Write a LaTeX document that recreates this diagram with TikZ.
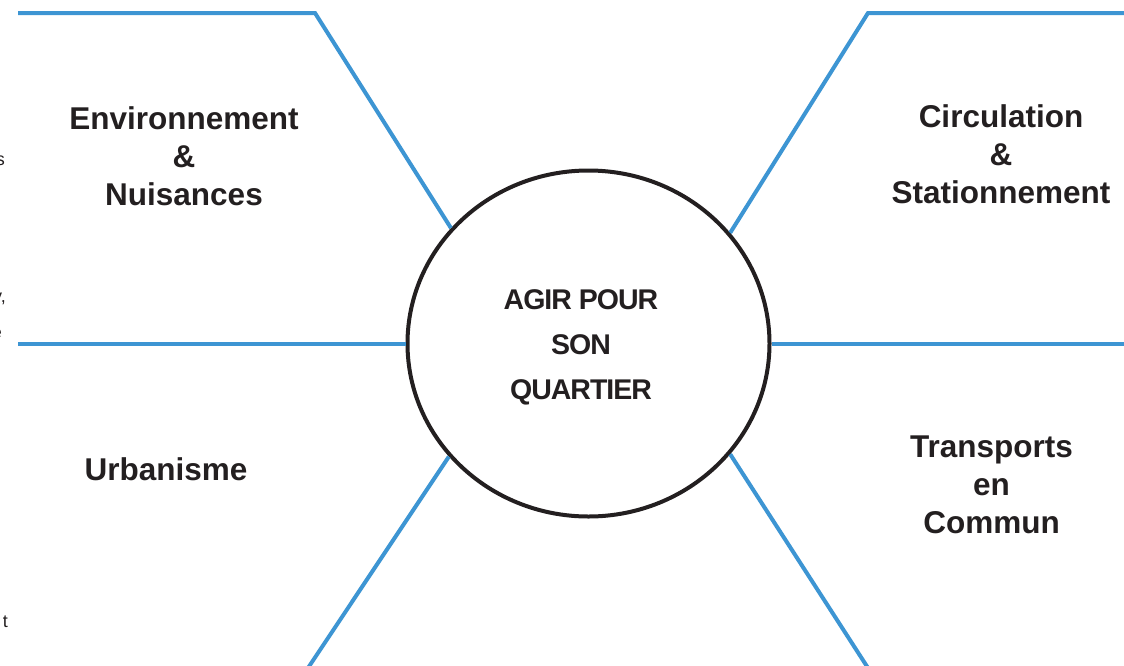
\documentclass[tikz,border=0pt]{standalone}
\usepackage{fontspec}
\setmainfont{Liberation Sans}
\usetikzlibrary{positioning,shapes.geometric}
\definecolor{myblue}{RGB}{61,149,211}
\definecolor{mygray}{RGB}{35,31,32}

\tikzset{
  theme/.style={font=\fontsize{31.5}{38}\selectfont\bfseries, text=mygray, align=center, inner sep=0pt},
  spoke/.style={myblue, line width=4pt, line join=miter},
  margin/.style={font=\fontsize{18}{22}\selectfont, text=mygray, anchor=base east, inner sep=0pt}
}

\begin{document}
\begin{tikzpicture}[x=1pt,y=-1pt]
\useasboundingbox (0,0) rectangle (1124,665);

\node[ellipse, draw=mygray, line width=4pt, minimum width=362pt, minimum height=346pt, inner sep=0pt] (quartier) at (588.5,343.5) {};
\node[font=\fontsize{28.5}{45}\selectfont\bfseries\addfontfeatures{LetterSpace=-3.5}, align=center, text=mygray, inner sep=0pt]
  (agir) at (581,347) {AGIR POUR\\SON\\QUARTIER};

\node[theme] (env)   at (184,156)   {Environnement\\\&\\Nuisances};
\node[theme] (circ)  at (1001,154)  {Circulation\\\&\\Stationnement};
\node[theme] (urba)  at (166,469)   {Urbanisme};
\node[theme] (trans) at (991.5,485) {Transports\\en\\Commun};

% bouts de texte coupes au bord gauche
\node[margin] (m1) at (5,165)  {s};
\node[margin] (m2) at (6,302)  {y,};
\node[margin] (m3) at (2,338)  {e};
\node[margin] (m4) at (8,627)  {t};

\coordinate (tl)  at (18,13);
\coordinate (tlk) at (315,13);
\coordinate (tr)  at (1130,13);
\coordinate (trk) at (868,13);
\coordinate (ml)  at (18,343.5);
\coordinate (mr)  at (1130,343.5);
\coordinate (bl)  at (308,668);
\coordinate (br)  at (868,668);

\draw[spoke] (tl) -- (tlk) -- (quartier.140);
\draw[spoke] (tr) -- (trk) -- (quartier.38);
\draw[spoke] (ml) -- (quartier.west);
\draw[spoke] (quartier.east) -- (mr);
\draw[spoke] (quartier.219) -- (bl);
\draw[spoke] (quartier.322) -- (br);

\end{tikzpicture}
\end{document}
